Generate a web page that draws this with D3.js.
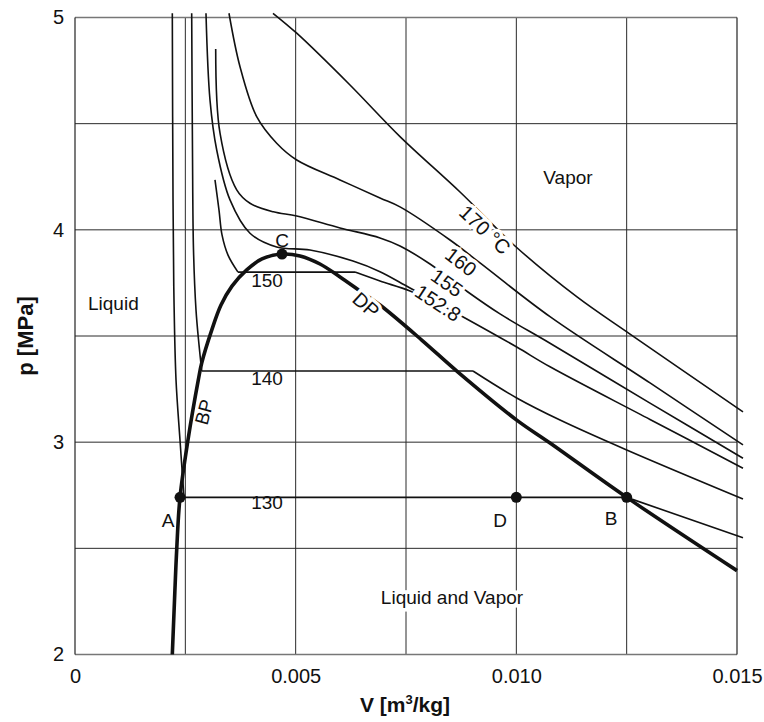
<!DOCTYPE html>
<html>
<head>
<meta charset="utf-8">
<script src="https://cdnjs.cloudflare.com/ajax/libs/d3/7.8.5/d3.min.js"></script>
<style>
body{margin:0;background:#fff}
svg{display:block;font-family:"Liberation Sans",Arial,sans-serif}
</style>
</head>
<body>
<div id="chart"></div>
<script>
// isotherms, [V m3/kg, p MPa]
var t130 = [[0.002205,5.02],[0.002221,4.141],[0.002243,3.670],[0.002289,3.293],[0.002379,3.010],[0.002470,2.74],
            [0.012501,2.74],[0.015136,2.550]];
var t140 = [[0.002644,5.02],[0.002662,4.376],[0.002685,3.905],[0.002742,3.622],[0.002810,3.458],[0.002871,3.335],
            [0.009018,3.335],[0.010009,3.208],[0.010990,3.104],[0.012501,2.963],[0.015136,2.732]];
var t150 = [[0.003172,4.235],[0.003263,4.093],[0.003331,3.976],[0.003467,3.881],[0.003693,3.801],
            [0.006345,3.801],[0.006911,3.759],[0.007591,3.712],[0.008271,3.646]];
var t1528 = [[0.002968,5.02],[0.003059,4.611],[0.003211,4.376],[0.003512,4.141],[0.003965,3.984],[0.004570,3.919],
             [0.005325,3.905],[0.006299,3.853],[0.006911,3.803],[0.007591,3.726],[0.008837,3.585],[0.010009,3.448],
             [0.010763,3.355],[0.013029,3.107],[0.015136,2.877]];
var t155 = [[0.003188,4.852],[0.003286,4.455],[0.003664,4.188],[0.003965,4.125],[0.004493,4.085],[0.005024,4.065],
            [0.006005,4.009],[0.006911,3.962],[0.007364,3.924],[0.008044,3.839],[0.008837,3.717],[0.009630,3.604],
            [0.010763,3.466],[0.013029,3.184],[0.015136,2.924]];
var t160 = [[0.003489,5.02],[0.003739,4.768],[0.004117,4.533],[0.004570,4.408],[0.005024,4.329],[0.006005,4.235],
            [0.006911,4.150],[0.007364,4.108],[0.008497,3.952],[0.009177,3.844],[0.010763,3.591],[0.013029,3.279],
            [0.015136,2.987]];
var t170 = [[0.004486,5.02],[0.005024,4.926],[0.006231,4.682],[0.007364,4.439],[0.008724,4.178],[0.009970,3.924],
            [0.011375,3.684],[0.012576,3.509],[0.015136,3.143]];
// bubble point + dew point curve
var envelope = [[0.002205,2.000],[0.002255,2.257],[0.002304,2.492],[0.002379,2.74],[0.002560,3.010],[0.002794,3.293],
                [0.002871,3.373],[0.003098,3.528],[0.003308,3.646],[0.003557,3.735],[0.003891,3.811],[0.004237,3.863],
                [0.004690,3.886],[0.005098,3.877],[0.005551,3.839],[0.006005,3.778],[0.006458,3.712],[0.006911,3.646],
                [0.007856,3.481],[0.008678,3.330],[0.010009,3.104],[0.010763,2.996],[0.012501,2.74],[0.015,2.395]];
var pointNames = ["A","C","D","B"];
var pointV = [0.00238,0.00469,0.0100,0.0125];
var pointP = [2.74,3.886,2.74,2.74];

var xTicks = [0,0.005,0.010,0.015];
var xTickLabels = ["0","0.005","0.010","0.015"];
var yTicks = [2,3,4,5];

var w = 764;
var h = 722;
var mLeft = 75, mRight = 737, mTop = 17.5, mBottom = 654.5;

var x = d3.scaleLinear().domain([0,0.015]).range([mLeft,mRight]);
var y = d3.scaleLinear().domain([2,5]).range([mBottom,mTop]);

var svg = d3.select("#chart")
	.append("svg")
	.attr("width",w)
	.attr("height",h)
	.style("background","#FFFFFF");

// grid
svg.append("g")
	.selectAll("line")
	.data(d3.range(0.0025,0.015,0.0025))
	.enter().append("line")
	.attr("x1",function(d){return x(d)}).attr("x2",function(d){return x(d)})
	.attr("y1",mTop).attr("y2",mBottom)
	.style("stroke","#2a2a2a").style("stroke-width",1);
svg.append("g")
	.selectAll("line")
	.data(d3.range(2.5,5,0.5))
	.enter().append("line")
	.attr("y1",function(d){return y(d)}).attr("y2",function(d){return y(d)})
	.attr("x1",mLeft).attr("x2",mRight)
	.style("stroke","#2a2a2a").style("stroke-width",1);

// frame
svg.append("line").attr("x1",mLeft).attr("x2",mRight).attr("y1",mTop).attr("y2",mTop)
	.style("stroke","#777").style("stroke-width",1.5);
svg.append("line").attr("x1",mLeft).attr("x2",mRight).attr("y1",mBottom).attr("y2",mBottom)
	.style("stroke","#777").style("stroke-width",1.5);
svg.append("line").attr("x1",mLeft).attr("x2",mLeft).attr("y1",mTop).attr("y2",mBottom)
	.style("stroke","#222").style("stroke-width",1.2);
svg.append("line").attr("x1",mRight).attr("x2",mRight).attr("y1",mTop).attr("y2",mBottom)
	.style("stroke","#222").style("stroke-width",1.2);

// axes (labels only)
var xAxis = d3.axisBottom(x).tickValues(xTicks).tickSize(0).tickPadding(14)
	.tickFormat(function(d,i){return xTickLabels[i]});
svg.append("g").attr("transform","translate(0,"+mBottom+")").call(xAxis)
	.call(function(g){g.select(".domain").remove()})
	.selectAll("text").style("font-size","20px").style("fill","#111")
	.style("font-family","Liberation Sans, Arial, sans-serif");
var yAxis = d3.axisLeft(y).tickValues(yTicks).tickSize(0).tickPadding(11)
	.tickFormat(d3.format("d"));
svg.append("g").attr("transform","translate("+mLeft+",0)").call(yAxis)
	.call(function(g){g.select(".domain").remove()})
	.selectAll("text").style("font-size","20px").style("fill","#111")
	.style("font-family","Liberation Sans, Arial, sans-serif");

// isotherms
var line = d3.line()
	.x(function(d){return x(d[0])})
	.y(function(d){return y(d[1])})
	.curve(d3.curveCatmullRom.alpha(0.5));
var straight = d3.line()
	.x(function(d){return x(d[0])})
	.y(function(d){return y(d[1])});

svg.append("g")
	.selectAll("path")
	.data([t130,t140,t150,t1528,t155,t160,t170])
	.enter().append("path")
	.attr("d",function(d){
		// horizontal parts drawn straight, curves smooth
		var segs = [], cur = [d[0]];
		for (var i=1;i<d.length;i++){
			if (d[i][1]===d[i-1][1]) { segs.push(cur); segs.push([d[i-1],d[i]]); cur=[d[i]]; }
			else cur.push(d[i]);
		}
		segs.push(cur);
		return segs.filter(function(s){return s.length>1}).map(function(s){
			return s.length===2 ? straight(s) : line(s);
		}).join("");
	})
	.style("fill","none").style("stroke","#111").style("stroke-width",1.6);

svg.append("path")
	.attr("d",line(envelope))
	.style("fill","none").style("stroke","#111").style("stroke-width",3.6);

svg.selectAll("circle")
	.data(pointV)
	.enter().append("circle")
	.attr("cx",function(d){return x(d)})
	.attr("cy",function(d,i){return y(pointP[i])})
	.attr("r",5.5)
	.style("fill","#111");

// annotations
var notes = [
	{t:"170 °C", v:0.00929, p:4.0, r:43, halo:true},
	{t:"160", v:0.008746, p:3.849, r:38, halo:true},
	{t:"155", v:0.008429, p:3.750, r:35, halo:true},
	{t:"152.8", v:0.008225, p:3.655, r:33, halo:true},
	{t:"DP", v:0.006594, p:3.646, r:42, halo:true},
	{t:"BP", v:0.002923, p:3.142, r:-75, halo:false},
	{t:"130", v:0.00435, p:2.718, r:0, halo:false},
	{t:"140", v:0.00435, p:3.302, r:0, halo:false},
	{t:"150", v:0.00435, p:3.764, r:0, halo:false},
	{t:"A", v:0.002107, p:2.633, r:0, halo:false},
	{t:"D", v:0.00963, p:2.633, r:0, halo:false},
	{t:"B", v:0.012145, p:2.643, r:0, halo:false},
	{t:"C", v:0.00469, p:3.952, r:0, halo:false},
	{t:"Vapor", v:0.01117, p:4.249, r:0, halo:false},
	{t:"Liquid and Vapor", v:0.008542, p:2.271, r:0, halo:true}
];
svg.append("g").selectAll("text")
	.data(notes)
	.enter().append("text")
	.attr("transform",function(d){return "translate("+x(d.v)+","+y(d.p)+") rotate("+d.r+")"})
	.attr("text-anchor","middle")
	.attr("dy","0.35em")
	.style("font-size",function(d){return d.r>0?"20px":"19px"})
	.style("fill","#111")
	.style("stroke",function(d){return d.halo?"#fff":"none"})
	.style("stroke-width",7)
	.style("paint-order","stroke")
	.text(function(d){return d.t});

svg.append("text")
	.attr("x",x(0.000295)).attr("y",y(3.655)).attr("dy","0.35em")
	.style("font-size","19px").style("fill","#111")
	.text("Liquid");

// axis titles
var xt = svg.append("text")
	.attr("x",405).attr("y",712)
	.attr("text-anchor","middle")
	.style("font-size","21px").style("font-weight","bold").style("fill","#111");
xt.append("tspan").text("V [m");
xt.append("tspan").attr("dy","-8").style("font-size","13px").text("3");
xt.append("tspan").attr("dy","8").text("/kg]");

svg.append("text")
	.attr("transform","translate(33,336) rotate(-90)")
	.attr("text-anchor","middle")
	.style("font-size","22px").style("font-weight","bold").style("fill","#111")
	.text("p [MPa]");
</script>
</body>
</html>
